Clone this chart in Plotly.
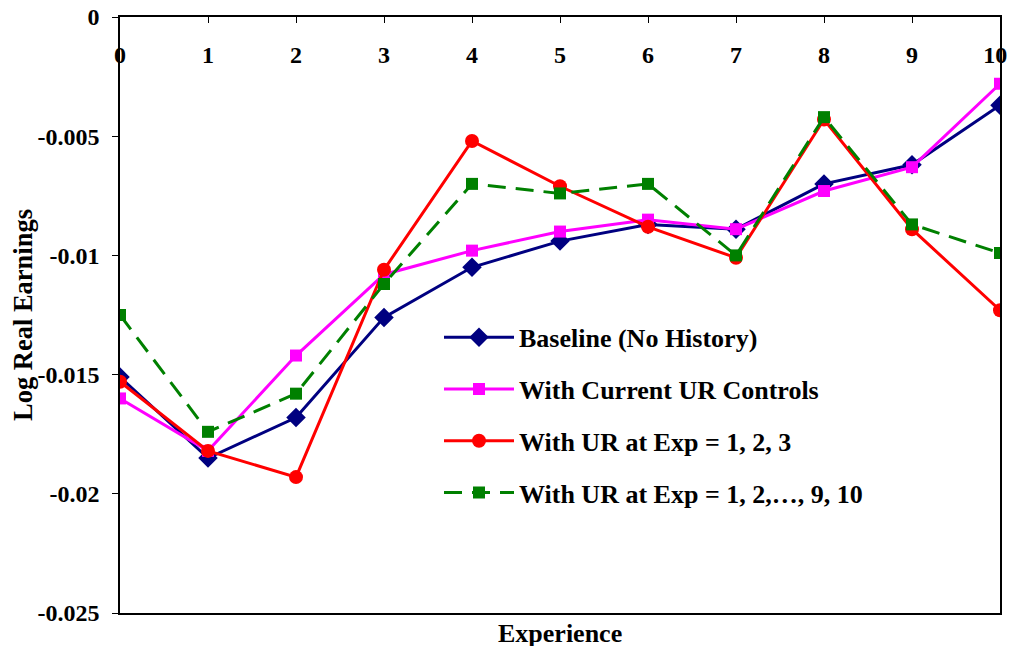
import plotly.graph_objects as go

experience = [0, 1, 2, 3, 4, 5, 6, 7, 8, 9, 10]
baseline = [-0.0151, -0.0185, -0.0168, -0.0126, -0.0105, -0.0094, -0.0087, -0.0089, -0.0070, -0.0062, -0.0037]
current_ur = [-0.0160, -0.0182, -0.0142, -0.0108, -0.0098, -0.0090, -0.0085, -0.0089, -0.0073, -0.0063, -0.0028]
ur_123 = [-0.0153, -0.0182, -0.0193, -0.0106, -0.0052, -0.0071, -0.0088, -0.0101, -0.0043, -0.0089, -0.0123]
ur_1_10 = [-0.0125, -0.0174, -0.0158, -0.0112, -0.0070, -0.0074, -0.0070, -0.0100, -0.0042, -0.0087, -0.0099]

names = ["Baseline (No History)", "With Current UR Controls",
         "With UR at Exp = 1, 2, 3", "With UR at Exp = 1, 2,\u2026, 9, 10"]
x_ticklabels = ["0", "1", "2", "3", "4", "5", "6", "7", "8", "9", "10\u2009\u2009"]
y_ticks = [0, -0.005, -0.01, -0.015, -0.02, -0.025]
y_ticklabels = ["0", "-0.005", "-0.01", "-0.015", "-0.02", "-0.025"]

FONT = "Liberation Serif"

fig = go.Figure()
styles = [
    dict(color="#000080", symbol="diamond", size=15, dash="solid"),
    dict(color="#FF00FF", symbol="square", size=12, dash="solid"),
    dict(color="#FF0000", symbol="circle", size=14, dash="solid"),
    dict(color="#008000", symbol="square", size=12, dash="18px,10px"),
]
for i, (vals, name, st) in enumerate(zip([baseline, current_ur, ur_123, ur_1_10], names, styles)):
    fig.add_trace(go.Scatter(
        x=experience, y=vals, name=name, mode="lines+markers",
        legendgroup=f"g{i}",
        line=dict(color=st["color"], width=3, dash=st["dash"]),
        marker=dict(color=st["color"], symbol=st["symbol"], size=st["size"]),
    ))

fig.update_layout(
    width=1006, height=638,
    margin=dict(l=112, r=14, t=9, b=33, autoexpand=False),
    paper_bgcolor="white", plot_bgcolor="white",
    font=dict(family=FONT, size=24, color="black", weight="bold"),
    showlegend=True,
    legend=dict(x=0.3625, y=0.502, xanchor="left", yanchor="top",
                bgcolor="rgba(0,0,0,0)", itemwidth=70, tracegroupgap=15,
                font=dict(family=FONT, size=26, color="black", weight="bold")),
    xaxis=dict(range=[0, 10], side="top", tickmode="array", tickvals=experience,
               ticktext=x_ticklabels,
               ticks="inside", ticklen=6, tickcolor="black", tickwidth=1,
               ticklabelposition="inside", ticklabelstandoff=25,
               ticklabeloverflow="allow", automargin=False,
               showline=True, linecolor="black", linewidth=1.5, mirror=True,
               showgrid=False, zeroline=False,
               tickfont=dict(family=FONT, size=24, color="black", weight="bold")),
    yaxis=dict(range=[-0.025, 0], tickmode="array", tickvals=y_ticks, ticktext=y_ticklabels,
               ticks="outside", ticklen=6, tickcolor="black", tickwidth=1,
               ticklabelstandoff=8,
               ticklabeloverflow="allow", automargin=False,
               showline=True, linecolor="black", linewidth=1.5, mirror=True,
               showgrid=False, zeroline=False,
               title=dict(text="Log Real Earnings", standoff=4,
                          font=dict(family=FONT, size=26.5, color="black", weight="bold")),
               tickfont=dict(family=FONT, size=24, color="black", weight="bold")),
)
fig.add_annotation(text="Experience", x=0.5, y=-0.0336, xref="paper", yref="paper",
                   yanchor="middle", showarrow=False,
                   font=dict(family=FONT, size=26, color="black", weight="bold"))
fig.write_html("out.html")
